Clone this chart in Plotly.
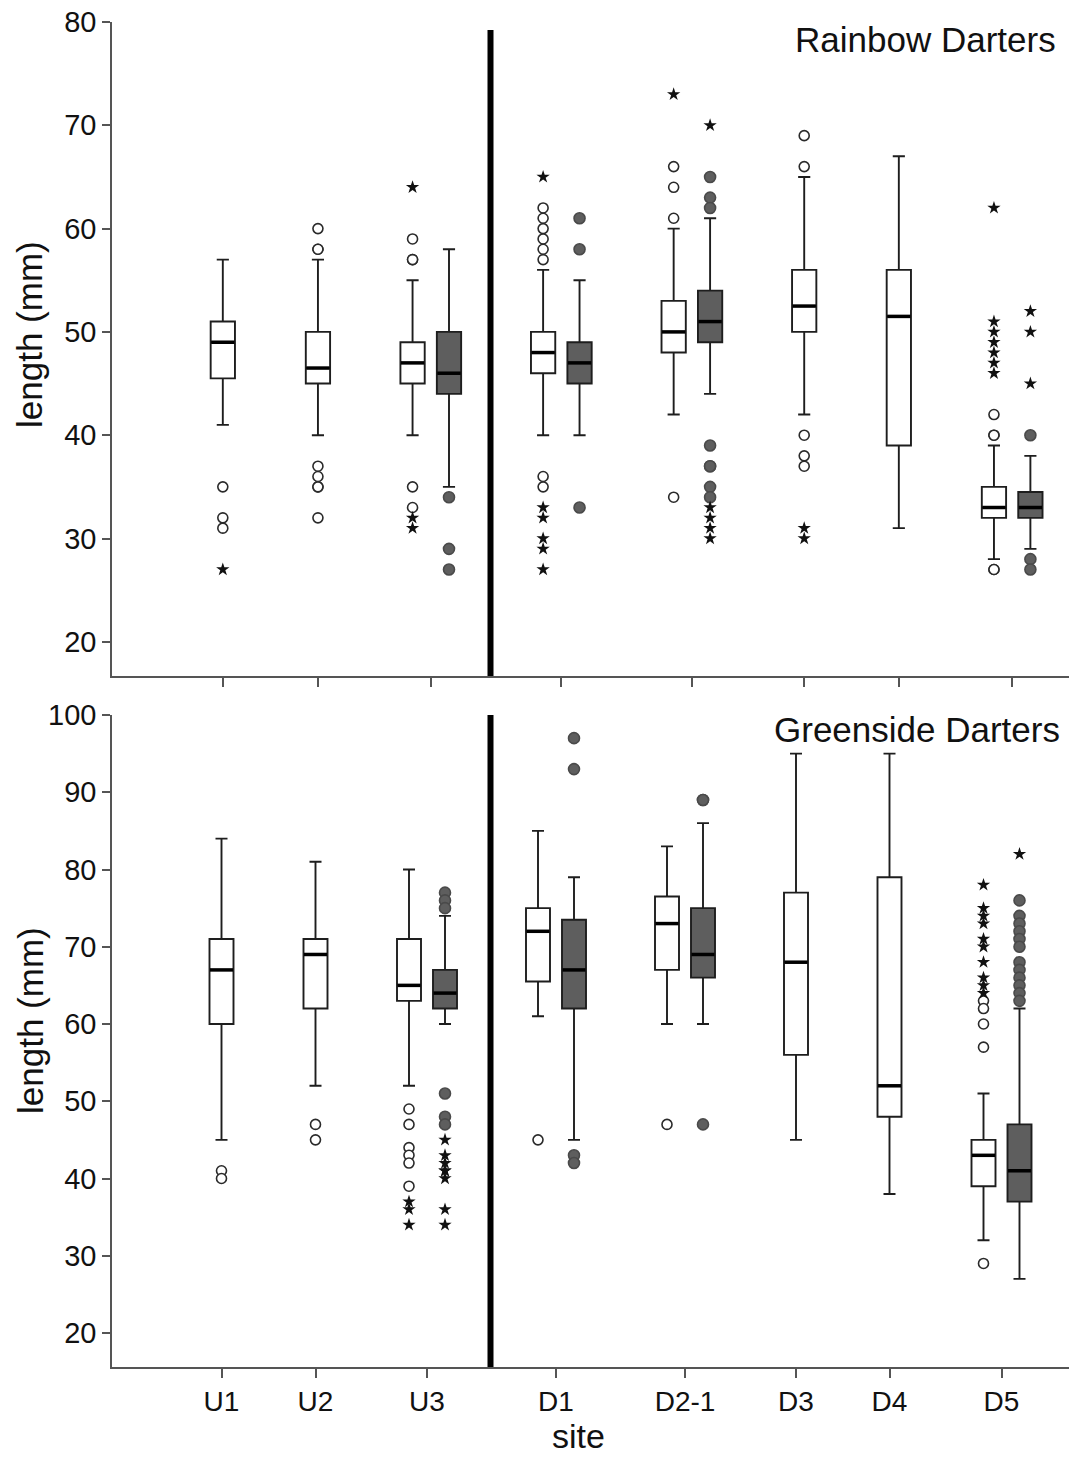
import plotly.graph_objects as go

# ---------------- data ----------------
SITES = ["U1", "U2", "U3", "D1", "D2-1", "D3", "D4", "D5"]
GROUP_SITE = ["U1", "U2", "U3", "U3", "D1", "D1", "D2-1", "D2-1", "D3", "D4", "D5", "D5"]
GROUP_KIND = ["white", "white", "white", "grey", "white", "grey", "white", "grey",
              "white", "white", "white", "grey"]

# Rainbow Darters (top panel)
RB_Q1 = [45.5, 45, 45, 44, 46, 45, 48, 49, 50, 39, 32, 32]
RB_MED = [49, 46.5, 47, 46, 48, 47, 50, 51, 52.5, 51.5, 33, 33]
RB_Q3 = [51, 50, 49, 50, 50, 49, 53, 54, 56, 56, 35, 34.5]
RB_LO = [41, 40, 40, 35, 40, 40, 42, 44, 42, 31, 28, 29]
RB_HI = [57, 57, 55, 58, 56, 55, 60, 61, 65, 67, 39, 38]
RB_CIRCLES = [[35, 32, 31], [60, 58, 58, 37, 36, 35, 35, 32], [59, 57, 57, 35, 33], [34, 29, 27],
              [62, 61, 60, 59, 58, 57, 36, 35], [61, 58, 33], [66, 64, 61, 34],
              [65, 63, 62, 39, 37, 37, 35, 34], [69, 66, 40, 38, 37], [],
              [42, 40, 40, 27, 27], [40, 28, 27]]
RB_STARS = [[27], [], [64, 32, 31], [], [65, 33, 32, 30, 29, 27], [], [73], [70, 33, 32, 31, 30],
            [31, 30], [], [62, 51, 50, 49, 48, 47, 46], [52, 50, 45]]

# Greenside Darters (bottom panel)
GS_Q1 = [60, 62, 63, 62, 65.5, 62, 67, 66, 56, 48, 39, 37]
GS_MED = [67, 69, 65, 64, 72, 67, 73, 69, 68, 52, 43, 41]
GS_Q3 = [71, 71, 71, 67, 75, 73.5, 76.5, 75, 77, 79, 45, 47]
GS_LO = [45, 52, 52, 60, 61, 45, 60, 60, 45, 38, 32, 27]
GS_HI = [84, 81, 80, 74, 85, 79, 83, 86, 95, 95, 51, 62]
GS_CIRCLES = [[41, 40], [47, 45], [49, 47, 44, 43, 42, 39], [77, 76, 75, 51, 48, 47], [45],
              [97, 93, 43, 42], [47], [89, 89, 47], [], [],
              [63, 62, 60, 57, 29], [76, 74, 73, 72, 71, 70, 68, 67, 66, 65, 64, 63]]
GS_STARS = [[], [], [37, 36, 34], [45, 43, 42, 41, 41, 40, 36, 34], [], [], [], [], [], [],
            [78, 75, 74, 73, 71, 70, 68, 66, 65, 64], [82]]

Y_TICKS_TOP = [20, 30, 40, 50, 60, 70, 80]
Y_TICKS_BOT = [20, 30, 40, 50, 60, 70, 80, 90, 100]

# ---------------- layout constants ----------------
W, H = 1069, 1458
PL, PR, PB = 112, 1069, 1367          # plot area left/right/bottom in px
PW = PR - PL
SITE_PX = {"U1": 221.5, "U2": 315.5, "U3": 427, "D1": 556, "D2-1": 685,
           "D3": 796, "D4": 889.5, "D5": 1001.5}
PAIR_OFF = 18
BOX_W = 24
TOP_STRETCH = 1.012

FONT = "Liberation Sans, Arial, Helvetica, sans-serif"
WHITE_FILL = "#ffffff"
GREY_FILL = "#5e5e5e"

site_count = {s: GROUP_SITE.count(s) for s in SITES}


def group_x(i):
    s = GROUP_SITE[i]
    base = SITE_PX[s] - PL
    if site_count[s] == 1:
        return base
    return base - PAIR_OFF if GROUP_KIND[i] == "white" else base + PAIR_OFF


fig = go.Figure()


def add_panel(q1, med, q3, lo, hi, circles, stars, xa, ya):
    for i in range(len(GROUP_SITE)):
        x = group_x(i)
        grey = GROUP_KIND[i] == "grey"
        fig.add_trace(go.Box(
            x=[x], q1=[q1[i]], median=[med[i]], q3=[q3[i]],
            lowerfence=[lo[i]], upperfence=[hi[i]],
            width=BOX_W, whiskerwidth=0.5, boxpoints=False,
            fillcolor=GREY_FILL if grey else WHITE_FILL,
            line=dict(color="#1e1e1e", width=1.9),
            xaxis=xa, yaxis=ya, showlegend=False, hoverinfo="skip"))
        fig.add_trace(go.Scatter(
            x=[x - BOX_W / 2 + 0.5, x + BOX_W / 2 - 0.5], y=[med[i], med[i]],
            mode="lines", line=dict(color="#000000", width=3.5),
            xaxis=xa, yaxis=ya, showlegend=False, hoverinfo="skip"))
        if circles[i]:
            fig.add_trace(go.Scatter(
                x=[x] * len(circles[i]), y=circles[i], mode="markers",
                marker=dict(symbol="circle",
                            size=11 if grey else 10,
                            color=GREY_FILL if grey else "#ffffff",
                            line=dict(color="#4a4a4a" if grey else "#2a2a2a", width=1.6)),
                xaxis=xa, yaxis=ya, showlegend=False, hoverinfo="skip"))
        if stars[i]:
            fig.add_trace(go.Scatter(
                x=[x] * len(stars[i]), y=stars[i], mode="markers",
                marker=dict(symbol="star", size=10, color="#111111",
                            line=dict(width=0)),
                xaxis=xa, yaxis=ya, showlegend=False, hoverinfo="skip"))


add_panel(RB_Q1, RB_MED, RB_Q3, RB_LO, RB_HI, RB_CIRCLES, RB_STARS, "x2", "y2")
add_panel(GS_Q1, GS_MED, GS_Q3, GS_LO, GS_HI, GS_CIRCLES, GS_STARS, "x", "y")


def py(px):  # pixel y -> paper y
    return (PB - px) / PB


def pxx(px):  # pixel x -> paper x
    return (px - PL) / PW


tickvals = [SITE_PX[s] - PL for s in SITES]
axis_common = dict(showline=True, linecolor="#555555", linewidth=1.5,
                   ticks="outside", tickcolor="#555555", tickwidth=1.5,
                   showgrid=False, zeroline=False, automargin=False)

top_y0, top_y1 = py(676), py(22)
bot_y1 = py(715)

fig.update_layout(
    width=W, height=H, autosize=False,
    margin=dict(l=PL, r=W - PR, t=0, b=H - PB, pad=0, autoexpand=False),
    paper_bgcolor="white", plot_bgcolor="white",
    font=dict(family=FONT, color="#111111"),
    boxmode="overlay", showlegend=False,
    xaxis=dict(domain=[0, 1], anchor="y", range=[0, PW],
               tickvals=tickvals, ticktext=SITES, ticklen=9,
               tickfont=dict(size=28, family=FONT, color="#111111"), **axis_common),
    yaxis=dict(domain=[0, bot_y1], anchor="x",
               range=[100 - (PB - 715) / 7.725, 100],
               tickvals=Y_TICKS_BOT, ticklen=8,
               tickfont=dict(size=29, family=FONT, color="#111111"), **axis_common),
    xaxis2=dict(domain=[0, 1], anchor="y2", range=[0, PW / TOP_STRETCH],
                tickvals=tickvals, showticklabels=False, ticklen=9, **axis_common),
    yaxis2=dict(domain=[top_y0, top_y1], anchor="x2",
                range=[80 - (676 - 22) / 10.33, 80],
                tickvals=Y_TICKS_TOP, ticklen=8,
                tickfont=dict(size=29, family=FONT, color="#111111"), **axis_common),
    shapes=[
        dict(type="line", xref="paper", yref="paper", x0=pxx(490.5), x1=pxx(490.5),
             y0=top_y0, y1=py(30), line=dict(color="#000000", width=6)),
        dict(type="line", xref="paper", yref="paper", x0=pxx(490.5), x1=pxx(490.5),
             y0=0, y1=bot_y1, line=dict(color="#000000", width=6)),
    ],
    annotations=[
        dict(text="Rainbow Darters", xref="paper", yref="paper", x=pxx(1058), y=py(39),
             xanchor="right", yanchor="middle", showarrow=False,
             font=dict(size=35, family=FONT, color="#111111")),
        dict(text="Greenside Darters", xref="paper", yref="paper", x=pxx(1062), y=py(729),
             xanchor="right", yanchor="middle", showarrow=False,
             font=dict(size=35, family=FONT, color="#111111")),
        dict(text="length (mm)", xref="paper", yref="paper", x=pxx(30), y=py(335),
             xanchor="center", yanchor="middle", textangle=-90, showarrow=False,
             font=dict(size=35, family=FONT, color="#111111")),
        dict(text="length (mm)", xref="paper", yref="paper", x=pxx(30), y=py(1021),
             xanchor="center", yanchor="middle", textangle=-90, showarrow=False,
             font=dict(size=35, family=FONT, color="#111111")),
        dict(text="site", xref="paper", yref="paper", x=pxx(578), y=py(1436),
             xanchor="center", yanchor="middle", showarrow=False,
             font=dict(size=34, family=FONT, color="#111111")),
    ],
)

fig.write_html("out.html")
